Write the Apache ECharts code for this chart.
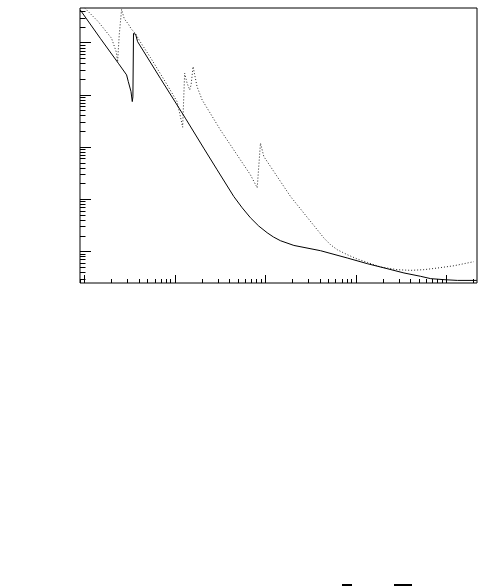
<!DOCTYPE html>
<html>
<head>
<meta charset="utf-8">
<script src="https://cdn.jsdelivr.net/npm/echarts@6/dist/echarts.min.js"></script>
<style>
  html, body { margin: 0; padding: 0; background: #fff; }
  #chart { width: 497px; height: 586px; }
</style>
</head>
<body>
<div id="chart"></div>
<script>
// solid curve (log-log)
const solidX = [0.906, 1.507, 2.385, 2.946, 3.076, 3.296, 3.404, 3.459, 3.513, 3.707, 3.899, 6.95, 13.15, 20.97,
  29.51, 45.08, 55.8, 68.87, 85.1, 105.4, 123.9, 147.9, 208.0, 410.2, 811, 1349, 2244, 3428, 5248, 6776, 9506, 13370, 21880]
const solidY = [41880, 12020, 3999, 2388, 1778, 1143, 736, 906, 14860, 14350, 10350, 2056, 354, 94.4,
  36.3, 11.19, 6.80, 4.376, 3.036, 2.26, 1.870, 1.589, 1.291, 1.023, 0.741, 0.577, 0.462, 0.383, 0.330, 0.298, 0.285, 0.276, 0.276]

// dotted curve
const dottedX = [0.906, 1.432, 2.009, 2.265, 2.344, 2.443, 2.594, 2.78, 2.924, 3.076, 3.319, 3.681, 4.178, 5.395,
  7.907, 10.64, 11.59, 12.27, 12.91, 13.74, 14.69, 15.21, 16.0, 17.7, 20.14, 32.06, 53.33, 68.87, 81.85, 88.92,
  96.83, 147.9, 191.0, 267.9, 377.6, 446.7, 529.7, 628.1, 811, 1045, 1349, 1892, 2897, 4064, 5702, 8035, 12270, 20280]
const dottedY = [55720, 25000, 12020, 6577, 4236, 13930, 42850, 28180, 30760, 22590, 18110, 14860, 10230, 5164,
  1754, 736, 380, 238, 2576, 1656, 1233, 1538, 3443, 1426, 794, 211, 56.4, 29.1, 16.4, 117.8,
  65.2, 21.7, 11.19, 5.38, 2.576, 1.789, 1.330, 1.068, 0.857, 0.709, 0.611, 0.499, 0.443, 0.430, 0.443, 0.476, 0.527, 0.630]

// axis ranges and tick values
const xMin = 0.9, xMax = 22000
const yMin = 0.246, yMax = 45700
const xDecades = [0.1, 1, 10, 100, 1000, 10000]
const yDecades = [0.1, 1, 10, 100, 1000, 10000]
const minorSteps = [2, 3, 4, 5, 6, 7, 8, 9]

const chart = echarts.init(document.getElementById('chart'))

const zip = (xs, ys) => xs.map((x, i) => [x, ys[i]])

chart.setOption({
  animation: false,
  backgroundColor: '#fff',
  grid: { left: 80, top: 8, width: 397, height: 275, show: true, borderColor: '#000', borderWidth: 1, backgroundColor: 'transparent' },
  xAxis: {
    type: 'log', min: xMin, max: xMax, logBase: 10,
    axisLine: { show: false }, axisTick: { show: false }, axisLabel: { show: false }, splitLine: { show: false }
  },
  yAxis: {
    type: 'log', min: yMin, max: yMax, logBase: 10,
    axisLine: { show: false }, axisTick: { show: false }, axisLabel: { show: false }, splitLine: { show: false }
  },
  series: [
    {
      type: 'line', data: zip(dottedX, dottedY), symbol: 'none', clip: true,
      lineStyle: { color: '#222', width: 1, type: [1, 2] }
    },
    {
      type: 'line', data: zip(solidX, solidY), symbol: 'none', clip: true,
      lineStyle: { color: '#000', width: 1 }
    }
  ]
})

// log ticks drawn on left and bottom axes
const left = 80, bottom = 283
const ticks = []
xDecades.forEach(d => {
  const vals = [[d, 8]].concat(minorSteps.map(s => [d * s, 4]))
  vals.forEach(([v, len]) => {
    if (v < xMin || v > xMax) return
    const px = Math.round(chart.convertToPixel({ xAxisIndex: 0 }, v)) + 0.5
    ticks.push({ type: 'line', shape: { x1: px, y1: bottom, x2: px, y2: bottom - len }, style: { stroke: '#000', lineWidth: 1 } })
  })
})
yDecades.forEach(d => {
  const vals = [[d, 11]].concat(minorSteps.map(s => [d * s, 5.5]))
  vals.forEach(([v, len]) => {
    if (v < yMin || v > yMax) return
    const py = Math.round(chart.convertToPixel({ yAxisIndex: 0 }, v)) + 0.5
    ticks.push({ type: 'line', shape: { x1: left, y1: py, x2: left + len, y2: py }, style: { stroke: '#000', lineWidth: 1 } })
  })
})

// fragments of cut-off text at the bottom edge
ticks.push({ type: 'rect', shape: { x: 342, y: 584, width: 10, height: 2 }, style: { fill: '#000' } })
ticks.push({ type: 'rect', shape: { x: 394, y: 584, width: 18, height: 2 }, style: { fill: '#000' } })

chart.setOption({ graphic: ticks })
</script>
</body>
</html>
